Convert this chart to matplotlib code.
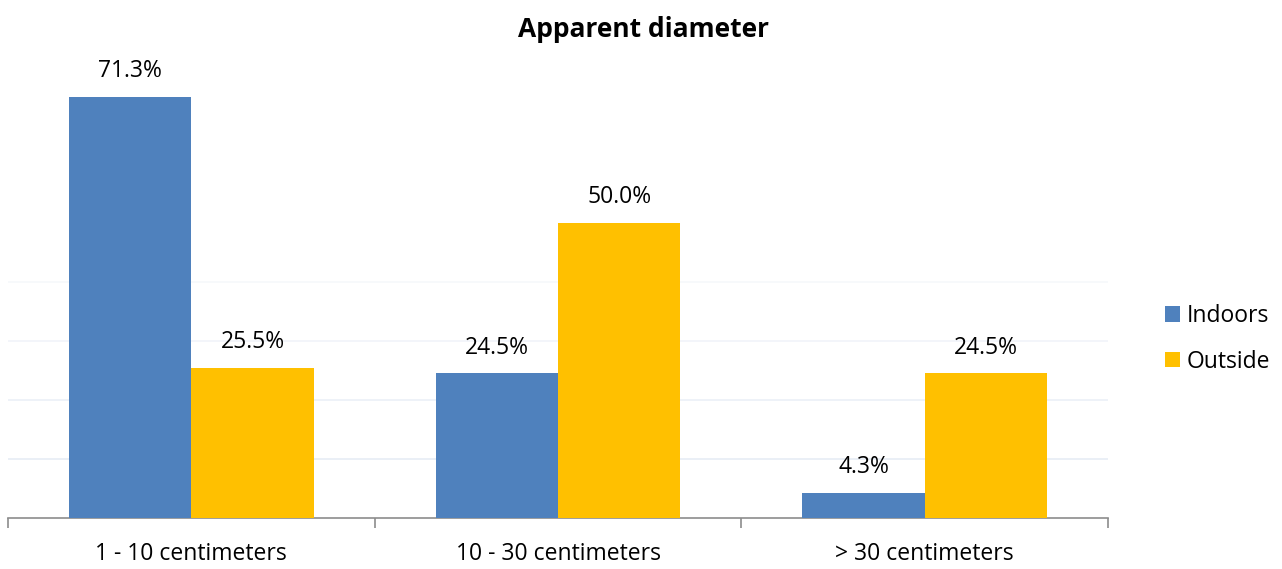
import numpy as np
import matplotlib.pyplot as plt

plt.rcParams['font.family'] = ['Open Sans', 'DejaVu Sans']

categories = ['1 - 10 centimeters', '10 - 30 centimeters', '> 30 centimeters']
indoors = [71.3, 24.5, 4.3]
outside = [25.5, 50.0, 24.5]
series_names = ['Indoors', 'Outside']
colors = ['#4f81bd', '#ffc000']

fig = plt.figure(figsize=(12.82, 5.69), dpi=100)
ax = fig.add_axes([8 / 1282, 1 - 518 / 569, 1100 / 1282, 472 / 569])

x = np.arange(len(categories))
w = 1 / 3
b1 = ax.bar(x - w / 2, indoors, w, color=colors[0], label=series_names[0], zorder=3)
b2 = ax.bar(x + w / 2, outside, w, color=colors[1], label=series_names[1], zorder=3)

for bars, vals in [(b1, indoors), (b2, outside)]:
    for rect, v in zip(bars, vals):
        ax.annotate('%.1f%%' % v, (rect.get_x() + rect.get_width() / 2, v),
                    xytext=(0, 10), textcoords='offset points', ha='center', va='bottom',
                    fontsize=16.5, color='#000000')

# faint gridlines, fading out towards the top
grid_cols = ['#e6ecf5', '#ebf0f7', '#f1f4fa', '#f6f8fb']
for g, c in zip([10, 20, 30, 40], grid_cols):
    ax.axhline(g, color=c, lw=1.2, zorder=1)

ax.set_xlim(-0.5, 2.5)
ax.set_ylim(0, 80)
ax.set_yticks([])
ax.set_xticks(x)
ax.set_xticklabels(categories, fontsize=16.5)
ax.tick_params(axis='x', length=0, pad=17.5)
ax.set_xticks([-0.5, 0.5, 1.5, 2.5], minor=True)
ax.tick_params(axis='x', which='minor', length=7, color='#8c8c8c', width=1.2)
for s in ['top', 'right', 'left']:
    ax.spines[s].set_visible(False)
ax.spines['bottom'].set_color('#8c8c8c')
ax.spines['bottom'].set_linewidth(1.2)

fig.suptitle('Apparent diameter', x=0.502, y=0.972, fontsize=19, fontweight='bold')

fig.legend(handles=[b1, b2], labels=series_names, loc='center left',
           bbox_to_anchor=(1144 / 1282, 1 - 339 / 569), frameon=False, fontsize=16.5,
           handlelength=0.65, handleheight=0.65, handletextpad=0.3, labelspacing=0.95)

fig.savefig('out.png', dpi=100)
